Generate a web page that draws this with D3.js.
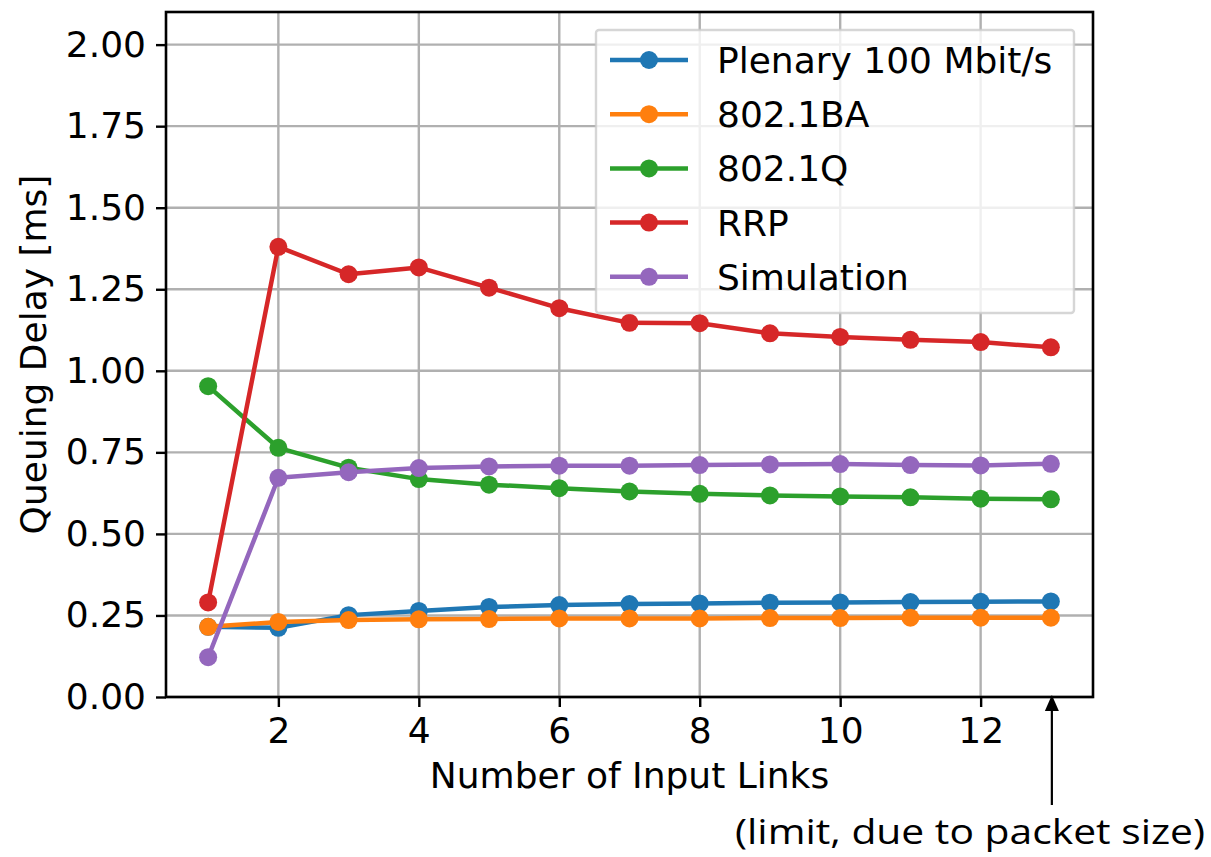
<!DOCTYPE html>
<html>
<head>
<meta charset="utf-8">
<script src="https://cdn.jsdelivr.net/npm/d3@7"></script>
<style>
  body { margin: 0; background: #fff; }
  text { font-family: "DejaVu Sans", sans-serif; }
</style>
</head>
<body>
<script>
// data
var links = [1, 2, 3, 4, 5, 6, 7, 8, 9, 10, 11, 12, 13];
var plenary = [0.215, 0.212, 0.251, 0.264, 0.276, 0.282, 0.285, 0.287, 0.289, 0.290, 0.291, 0.292, 0.293];
var ba = [0.215, 0.230, 0.236, 0.238, 0.239, 0.241, 0.241, 0.241, 0.242, 0.242, 0.243, 0.243, 0.243];
var q = [0.953, 0.764, 0.703, 0.668, 0.651, 0.640, 0.630, 0.623, 0.618, 0.615, 0.612, 0.608, 0.606];
var rrp = [0.290, 1.380, 1.296, 1.317, 1.255, 1.192, 1.147, 1.146, 1.115, 1.104, 1.095, 1.088, 1.072];
var sim = [0.122, 0.672, 0.689, 0.702, 0.707, 0.709, 0.709, 0.711, 0.713, 0.714, 0.711, 0.710, 0.715];
var seriesNames = ["Plenary 100 Mbit/s", "802.1BA", "802.1Q", "RRP", "Simulation"];
var seriesColors = ["#1f77b4", "#ff7f0e", "#2ca02c", "#d62728", "#9467bd"];
var xTicks = [2, 4, 6, 8, 10, 12];
var yTicks = [0, 0.25, 0.5, 0.75, 1, 1.25, 1.5, 1.75, 2];

var series = [plenary, ba, q, rrp, sim];

var svgWidth = 1211;
var svgHeight = 857;
var margin = { top: 12, right: 118, bottom: 160, left: 166 };
var chartWidth = svgWidth - margin.left - margin.right;
var chartHeight = svgHeight - margin.top - margin.bottom;

var svg = d3.select("body").append("svg")
  .attr("width", svgWidth)
  .attr("height", svgHeight);

var chartGroup = svg.append("g")
  .attr("transform", `translate(${margin.left}, ${margin.top})`);

var xScale = d3.scaleLinear().domain([0.4, 13.6]).range([0, chartWidth]);
var yScale = d3.scaleLinear().domain([0, 2.1]).range([chartHeight, 0]);

// grid
chartGroup.append("g")
  .selectAll("line")
  .data(xTicks)
  .enter().append("line")
  .attr("x1", d => xScale(d)).attr("x2", d => xScale(d))
  .attr("y1", 0).attr("y2", chartHeight)
  .attr("stroke", "#b0b0b0").attr("stroke-width", 2.4);

chartGroup.append("g")
  .selectAll("line")
  .data(yTicks)
  .enter().append("line")
  .attr("x1", 0).attr("x2", chartWidth)
  .attr("y1", d => yScale(d)).attr("y2", d => yScale(d))
  .attr("stroke", "#b0b0b0").attr("stroke-width", 2.4);

// axes
var bottomAxis = d3.axisBottom(xScale).tickValues(xTicks).tickSize(10).tickPadding(10).tickFormat(d3.format("d"));
var leftAxis = d3.axisLeft(yScale).tickValues(yTicks).tickSize(10).tickPadding(10).tickFormat(d3.format(".2f"));

var xAxisG = chartGroup.append("g")
  .attr("transform", `translate(0, ${chartHeight})`)
  .call(bottomAxis);
var yAxisG = chartGroup.append("g").call(leftAxis);

[xAxisG, yAxisG].forEach(function(g) {
  g.select(".domain").remove();
  g.selectAll(".tick line").attr("stroke", "#000").attr("stroke-width", 2.4);
  g.selectAll(".tick text").attr("fill", "#000").style("font-size", "36px")
    .style("font-family", "DejaVu Sans");
});

// lines and markers
var drawLine = d3.line()
  .x((d, i) => xScale(links[i]))
  .y(d => yScale(d));

series.forEach(function(vals, k) {
  var g = chartGroup.append("g");
  g.append("path")
    .datum(vals)
    .attr("d", drawLine)
    .attr("fill", "none")
    .attr("stroke", seriesColors[k])
    .attr("stroke-width", 4.5)
    .attr("stroke-linejoin", "round");
  g.selectAll("circle")
    .data(vals)
    .enter().append("circle")
    .attr("cx", (d, i) => xScale(links[i]))
    .attr("cy", d => yScale(d))
    .attr("r", 9)
    .attr("fill", seriesColors[k]);
});

// frame
chartGroup.append("rect")
  .attr("width", chartWidth).attr("height", chartHeight)
  .attr("fill", "none").attr("stroke", "#000").attr("stroke-width", 2.6);

// legend
var legend = chartGroup.append("g")
  .attr("transform", `translate(${596 - margin.left}, ${30 - margin.top})`);
legend.append("rect")
  .attr("width", 478).attr("height", 283)
  .attr("rx", 3)
  .attr("fill", "#fff").attr("fill-opacity", 0.8)
  .attr("stroke", "#cccccc").attr("stroke-opacity", 0.8).attr("stroke-width", 2.4);

var rows = legend.selectAll(".row")
  .data(seriesNames)
  .enter().append("g")
  .attr("transform", (d, i) => `translate(0, ${30 + i * 54.2})`);
rows.append("line")
  .attr("x1", 14).attr("x2", 92)
  .attr("stroke", (d, i) => seriesColors[i]).attr("stroke-width", 4.5);
rows.append("circle")
  .attr("cx", 53).attr("r", 9)
  .attr("fill", (d, i) => seriesColors[i]);
rows.append("text")
  .attr("x", 121).attr("y", 13)
  .style("font-size", "36px")
  .text(d => d);

// axis titles
chartGroup.append("text")
  .attr("x", chartWidth / 2).attr("y", 788 - margin.top)
  .attr("text-anchor", "middle")
  .style("font-size", "36px")
  .text("Number of Input Links");

svg.append("text")
  .attr("transform", `translate(46, ${margin.top + chartHeight / 2}) rotate(-90)`)
  .attr("text-anchor", "middle")
  .style("font-size", "36px")
  .text("Queuing Delay [ms]");

// annotation arrow and note
var arrowX = xScale(13) + margin.left + 1;
svg.append("line")
  .attr("x1", arrowX).attr("x2", arrowX)
  .attr("y1", 805).attr("y2", 708)
  .attr("stroke", "#000").attr("stroke-width", 2.2);
svg.append("path")
  .attr("d", `M${arrowX},695 L${arrowX - 7},711 L${arrowX + 7},711 Z`)
  .attr("fill", "#000");
svg.append("text")
  .attr("x", 735).attr("y", 844)
  .attr("textLength", 470)
  .attr("lengthAdjust", "spacingAndGlyphs")
  .style("font-family", "'Open Sans', sans-serif")
  .style("font-size", "34px")
  .text("(limit, due to packet size)");
</script>
</body>
</html>
